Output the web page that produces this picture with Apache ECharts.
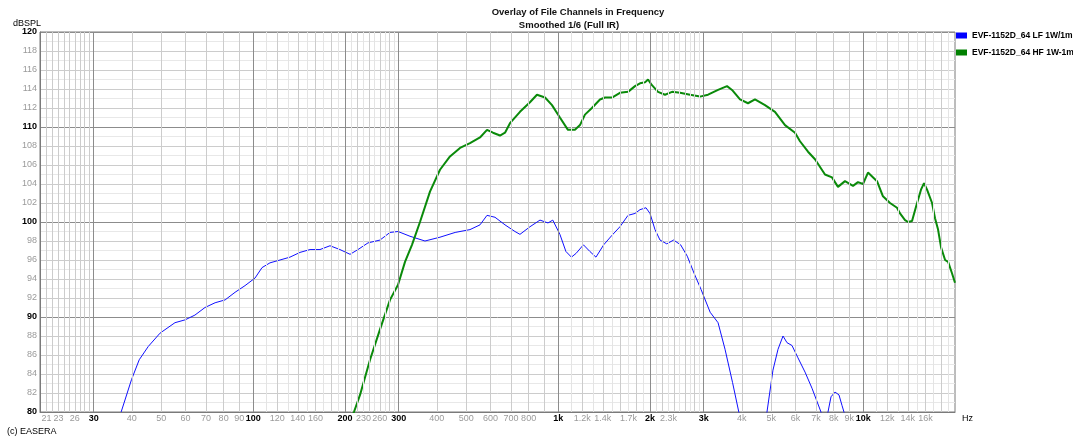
<!DOCTYPE html>
<html>
<head>
<meta charset="utf-8">
<title>Overlay of File Channels in Frequency</title>
<script src="https://cdn.jsdelivr.net/npm/echarts@6.0.0/dist/echarts.min.js"></script>
<style>
html, body { margin: 0; padding: 0; background: #fff; }
#chart { width: 1073px; height: 438px; }
</style>
</head>
<body>
<div id="chart"></div>
<script>
// LF channel (Hz / dBSPL)
var lfFreq = [36.9, 39.9, 42.3, 45.3, 49.5, 55.4, 59.8, 64.4, 69.5, 75, 80.9, 87.2, 94, 101.4, 106.9, 113.5, 122.4, 132, 142.4,
  153.6, 165.6, 178.6, 192.5, 207.8, 220.6, 237.9, 260.5, 280.9, 298.5, 326.7, 365.8, 409.7, 459.3, 513.9, 554.2, 584.3, 620.6,
  669.3, 721.6, 749.4, 808.1, 871.6, 925.9, 960, 1013, 1060, 1105, 1145, 1210, 1270, 1330, 1410, 1501, 1594, 1694, 1786, 1855,
  1940, 2000, 2077, 2157, 2270, 2390, 2520, 2650, 2790, 2940, 3150, 3194, 3343, 3524, 3730, 3910, 4190, 4485, 4730, 4837,
  5060, 5257, 5459, 5625, 5842, 6112, 6447, 6795, 7272, 7450, 7667, 7843, 8083, 8330, 8520, 8650, 9054];
var lfLevel = [80, 83.4, 85.5, 86.9, 88.3, 89.4, 89.7, 90.2, 91, 91.5, 91.8, 92.6, 93.3, 94.1, 95.2, 95.7, 96, 96.3, 96.8,
  97.1, 97.1, 97.5, 97.1, 96.6, 97.1, 97.8, 98.1, 98.9, 99, 98.5, 98, 98.4, 98.9, 99.2, 99.7, 100.7, 100.5,
  99.7, 99, 98.7, 99.5, 100.2, 99.9, 100.2, 98.7, 96.9, 96.3, 96.7, 97.6, 96.9, 96.3, 97.6, 98.6, 99.5, 100.7, 100.9, 101.3,
  101.5, 100.9, 99.2, 98.1, 97.7, 98.1, 97.6, 96.4, 94.6, 92.9, 90.5, 90.4, 89.4, 86.6, 83.1, 80, 77, 76, 78, 80,
  84.4, 86.6, 88, 87.3, 87, 85.7, 84.2, 82.5, 80, 78, 80, 81.6, 82.1, 81.8, 80.7, 80, 77];

// HF channel (Hz / dBSPL)
var hfFreq = [205, 214, 224, 241.6, 260.5, 280.9, 298.5, 314.6, 331.6, 352.3, 379.9, 409.7, 441.8, 476.6, 513.9, 554.2, 584.3,
  611.3, 644.5, 669.3, 695, 749.4, 808.1, 852, 905.4, 954.3, 1013, 1076.5, 1135, 1179, 1224, 1290, 1371, 1424, 1501, 1594,
  1694, 1786, 1855, 1926, 1970, 2030, 2125, 2240, 2362, 2509, 2706, 2918, 3100, 3343, 3577, 3715, 3946, 4191, 4418, 4765,
  5137, 5542, 5977, 6206, 6593, 6950, 7495, 7902, 8267, 8716, 9260, 9616, 9985, 10370, 11100, 11610, 12245, 12910, 13207,
  13716, 14030, 14460, 14900, 15470, 15830, 16195, 16820, 17200, 17600, 18010, 18560, 18990, 19550, 20000];
var hfLevel = [78.5, 80, 81.8, 85.5, 88.7, 91.8, 93.4, 95.8, 97.6, 100, 103.2, 105.5, 106.9, 107.8, 108.3, 108.9, 109.7,
  109.4, 109.1, 109.4, 110.4, 111.6, 112.6, 113.4, 113.1, 112.3, 111, 109.7, 109.7, 110.2, 111.3, 112, 112.9, 113.1, 113.1, 113.6,
  113.7, 114.3, 114.6, 114.7, 115, 114.4, 113.7, 113.4, 113.7, 113.6, 113.4, 113.2, 113.4, 113.9, 114.3, 113.9, 112.9, 112.5, 112.9, 112.3,
  111.6, 110.2, 109.4, 108.5, 107.4, 106.6, 105, 104.7, 103.7, 104.3, 103.8, 104.2, 104, 105.2, 104.3, 102.7, 102, 101.5, 100.9,
  100.2, 100, 100.1, 101.6, 103.4, 104.1, 103.4, 102, 100.4, 99.2, 97.3, 96, 95.8, 94.6, 93.6];

// vertical grid
var majorGrid = [30, 100, 200, 300, 1000, 2000, 3000, 10000];
var minorGrid = [21, 22, 23, 24, 25, 26, 27, 28, 29, 40, 50, 60, 70, 80, 90, 120, 140, 160, 180, 220, 240, 260, 280,
  400, 500, 600, 700, 800, 900, 1200, 1400, 1600, 1800, 2200, 2400, 2600, 2800, 4000, 5000, 6000, 7000, 8000, 9000,
  12000, 14000, 16000, 18000];
var faintGrid = [110, 130, 150, 170, 190, 210, 230, 250, 270, 290, 1100, 1300, 1500, 1700, 1900, 2100, 2300, 2500, 2700, 2900,
  11000, 13000, 15000, 17000, 19000];

// x tick labels
var tickFreq = [21, 23, 26, 30, 40, 50, 60, 70, 80, 90, 100, 120, 140, 160, 200, 230, 260, 300, 400, 500, 600, 700, 800,
  1000, 1200, 1400, 1700, 2000, 2300, 3000, 4000, 5000, 6000, 7000, 8000, 9000, 10000, 12000, 14000, 16000];
var tickText = ['21', '23', '26', '30', '40', '50', '60', '70', '80', '90', '100', '120', '140', '160', '200', '230', '260', '300',
  '400', '500', '600', '700', '800', '1k', '1.2k', '1.4k', '1.7k', '2k', '2.3k', '3k', '4k', '5k', '6k', '7k', '8k', '9k',
  '10k', '12k', '14k', '16k'];

var FONT = 'Liberation Sans';

function pairs(xs, ys) {
  return xs.map(function (x, i) { return [x, ys[i]]; });
}

function gridLine(f, color) {
  var item = { xAxis: f, lineStyle: { color: color } };
  var i = tickFreq.indexOf(f);
  if (i >= 0) {
    var major = majorGrid.indexOf(f) >= 0;
    item.label = {
      show: true,
      position: 'start',
      distance: 2,
      formatter: tickText[i],
      color: major ? '#000' : '#9a9a9a',
      fontWeight: major ? 'bold' : 'normal',
      fontFamily: FONT,
      fontSize: 9
    };
  }
  return item;
}

var gridLines = [];
faintGrid.forEach(function (f) { gridLines.push(gridLine(f, '#e4e4e4')); });
minorGrid.forEach(function (f) { gridLines.push(gridLine(f, '#cccccc')); });
majorGrid.forEach(function (f) { gridLines.push(gridLine(f, '#8c8c8c')); });

var chart = echarts.init(document.getElementById('chart'));
chart.setOption({
  animation: false,
  backgroundColor: '#fff',
  title: [{
    text: 'Overlay of File Channels in Frequency',
    left: 578, top: 7, textAlign: 'center', padding: 0,
    textStyle: { fontFamily: FONT, fontSize: 9.5, fontWeight: 'bold', color: '#111' }
  }, {
    text: 'Smoothed 1/6 (Full IR)',
    left: 569, top: 20, textAlign: 'center', padding: 0,
    textStyle: { fontFamily: FONT, fontSize: 9.5, fontWeight: 'bold', color: '#111' }
  }],
  legend: {
    orient: 'vertical',
    left: 956, top: 31, padding: 0,
    itemWidth: 11, itemHeight: 6, itemGap: 8,
    icon: 'rect',
    textStyle: { fontFamily: FONT, fontSize: 8.5, fontWeight: 'bold', color: '#000' },
    data: ['EVF-1152D_64 LF 1W/1m', 'EVF-1152D_64 HF 1W-1m']
  },
  grid: {
    left: 40, top: 32, width: 915, height: 380,
    show: true, borderColor: '#7a7a7a', borderWidth: 1,
    containLabel: false
  },
  xAxis: {
    type: 'log', logBase: 10, min: 20, max: 20000,
    axisLine: { show: true, lineStyle: { color: '#7a7a7a' } },
    axisTick: { show: false },
    axisLabel: { show: false },
    splitLine: { show: false }
  },
  yAxis: {
    type: 'value', min: 80, max: 120, interval: 2,
    name: 'dBSPL', nameLocation: 'end', nameGap: 4,
    nameTextStyle: { fontFamily: FONT, fontSize: 9, color: '#000', align: 'right', padding: [0, -1, 0, 0] },
    axisLine: { show: true, lineStyle: { color: '#7a7a7a' } },
    axisTick: { show: false },
    axisLabel: {
      margin: 3, fontFamily: FONT, fontSize: 9, color: '#9a9a9a',
      formatter: function (v) { return v % 10 === 0 ? '{b|' + v + '}' : '' + v; },
      rich: { b: { fontFamily: FONT, fontSize: 9, fontWeight: 'bold', color: '#000' } }
    },
    splitLine: { show: true, lineStyle: { color: ['#8c8c8c', '#cccccc', '#cccccc', '#cccccc', '#cccccc'] } },
    minorTick: { show: false, splitNumber: 2 },
    minorSplitLine: { show: true, lineStyle: { color: '#e8e8e8' } }
  },
  graphic: [{
    type: 'text', left: 962, top: 414,
    style: { text: 'Hz', fontFamily: FONT, fontSize: 9, fill: '#000' }
  }, {
    type: 'text', left: 7, top: 427,
    style: { text: '(c) EASERA', fontFamily: FONT, fontSize: 9, fill: '#000' }
  }],
  series: [{
    type: 'line', data: [], silent: true, z: 1,
    markLine: {
      silent: true, symbol: ['none', 'none'], animation: false,
      label: { show: false },
      lineStyle: { type: 'solid', width: 1 },
      data: gridLines
    }
  }, {
    name: 'EVF-1152D_64 LF 1W/1m', type: 'line', z: 3,
    data: pairs(lfFreq, lfLevel), showSymbol: false, clip: true,
    color: '#0000ff', lineStyle: { width: 1, color: '#1010ff' }
  }, {
    name: 'EVF-1152D_64 HF 1W-1m', type: 'line', z: 4,
    data: pairs(hfFreq, hfLevel), showSymbol: false, clip: true,
    color: '#008000', lineStyle: { width: 2, color: '#0a8a0a' }
  }]
});
</script>
</body>
</html>
